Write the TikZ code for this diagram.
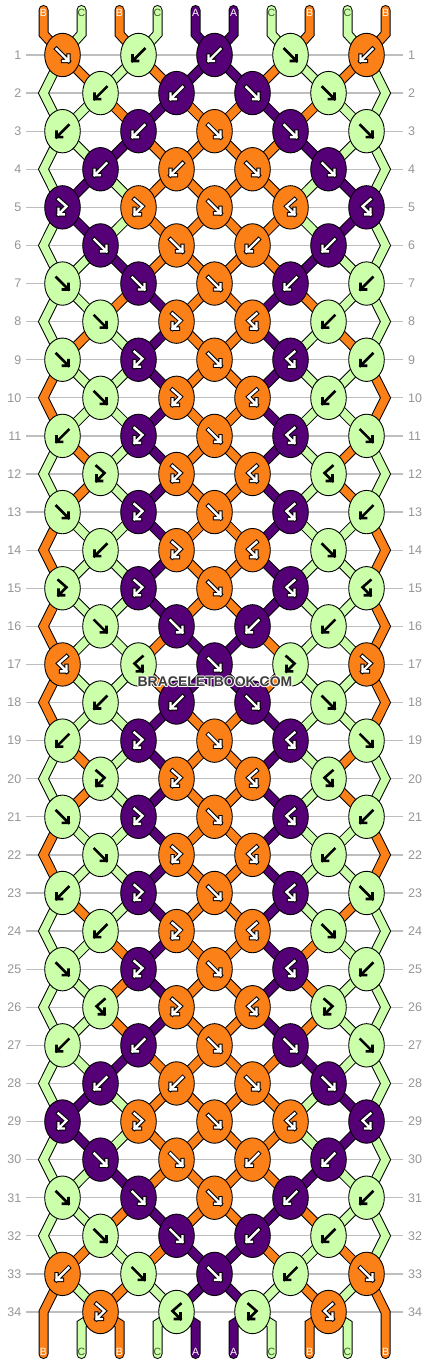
\documentclass[tikz,border=0pt]{standalone}
\usepackage{fontspec}
\setmainfont{Liberation Sans}
\usetikzlibrary{shapes.geometric}
\definecolor{cA}{RGB}{86,0,120}
\definecolor{cB}{RGB}{252,128,24}
\definecolor{cC}{RGB}{204,255,170}
\definecolor{rowgray}{RGB}{190,190,190}
\definecolor{numgray}{RGB}{150,150,150}
\definecolor{lblC}{RGB}{60,90,40}
\definecolor{wmgray}{RGB}{60,60,60}
\def\getcol#1{\csname sc#1\endcsname}
\def\setcol#1#2{\expandafter\xdef\csname sc#1\endcsname{#2}}
\def\arrpathF{(-6,-6) -- (6,6) (0.5,6) -- (6,6) -- (6,0.5)}
\def\arrpathB{(6,-6) -- (-6,6) (-0.5,6) -- (-6,6) -- (-6,0.5)}
\def\arrpathb{(-4,-8) -- (4,-1) -- (-4,7) (-4,1.5) -- (-4,7) -- (1.5,7)}
\def\arrpathf{(4,-8) -- (-4,-1) -- (4,7) (4,1.5) -- (4,7) -- (-1.5,7)}
\newcommand\thr[2]{%
  \ifnum\passno=1 \draw[thread out] #2;\else\draw[thread col, draw=c#1] #2;\fi}
\begin{document}
\begin{tikzpicture}[x=1pt,y=-1pt,
  knot/.style={ellipse, draw=black, line width=0.9pt, minimum width=35.6pt, minimum height=43.4pt, inner sep=0pt},
  thread out/.style={line width=10pt, draw=black, line cap=round, line join=miter},
  thread col/.style={line width=8pt, line cap=round, line join=miter},
  arr out/.style={draw=black, line width=4.4pt, line cap=rect, line join=miter},
  arr white/.style={draw=white, line width=2.4pt, line cap=rect, line join=miter},
  arr black/.style={draw=black, line width=2.6pt, line cap=rect, line join=miter},
  rowline/.style={draw=rowgray, line width=1.3pt},
  num/.style={text=numgray, font=\fontsize{12.5}{14}\selectfont, inner sep=0pt},
  lbl/.style={font=\fontsize{10.5}{12}\selectfont, inner sep=0pt},
  wm/.style={font=\bfseries\fontsize{14}{16}\selectfont, inner sep=0pt}]
\useasboundingbox (0,0) rectangle (430,1364);
\fill[white] (0,0) rectangle (430,1364);
% ---------- simulation of the strings (no drawing) ----------
\setcol{0}{B}\setcol{1}{C}\setcol{2}{B}\setcol{3}{C}\setcol{4}{A}
\setcol{5}{A}\setcol{6}{C}\setcol{7}{B}\setcol{8}{C}\setcol{9}{B}
\foreach \pp in {0,...,9} {\expandafter\xdef\csname sg-0-\pp\endcsname{\getcol{\pp}}}
\foreach \row [count=\ri] in {{F,B,B,F,B},{B,B,F,F},{B,B,F,F,F},{B,B,F,F},{b,b,F,f,f},
  {F,F,B,B},{F,F,F,B,B},{F,b,f,B},{F,b,F,f,B},{F,b,f,B},
  {B,b,F,f,F},{b,b,f,f},{F,b,F,f,B},{B,b,f,F},{b,b,F,f,f},
  {F,F,B,B},{f,f,F,b,b},{B,B,F,F},{B,b,F,f,F},{b,b,f,f},
  {F,b,F,f,B},{F,b,f,B},{B,b,F,f,F},{B,b,f,F},{F,b,F,f,B},
  {f,b,f,b},{B,B,F,F,F},{B,B,F,F},{b,b,F,f,f},{F,F,B,B},
  {F,F,F,B,B},{F,F,B,B},{B,F,F,B,F},{b,f,b,f}} {
  \ifodd\ri\relax\def\off{0}\else\def\off{1}\fi
  \foreach \kt [count=\kk from 0] in \row {
    \edef\li{\the\numexpr2*\kk+\off\relax}%
    \edef\rr{\the\numexpr\li+1\relax}%
    \edef\cL{\getcol{\li}}\edef\cR{\getcol{\rr}}%
    \if\kt F\let\shown\cL\setcol{\li}{\cR}\setcol{\rr}{\cL}\fi
    \if\kt B\let\shown\cR\setcol{\li}{\cR}\setcol{\rr}{\cL}\fi
    \if\kt f\let\shown\cL\fi
    \if\kt b\let\shown\cR\fi
    \expandafter\xdef\csname kc-\ri-\kk\endcsname{\shown}%
    \expandafter\xdef\csname kt-\ri-\kk\endcsname{\kt}%
  }
  \foreach \pp in {0,...,9} {\expandafter\xdef\csname sg-\ri-\pp\endcsname{\getcol{\pp}}}
}
% ---------- positions, row lines and numbers ----------
\foreach \ri in {1,...,34} {
  \pgfmathsetmacro\yy{55+38.09*(\ri-1)}
  \ifodd\ri\relax
    \foreach \pp in {0,...,9} {\coordinate (P-\ri-\pp) at ({62.5+76*int(\pp/2)},\yy);}
  \else
    \coordinate (P-\ri-0) at (43.5,\yy);
    \coordinate (P-\ri-9) at (385.5,\yy);
    \foreach \pp in {1,...,8} {\coordinate (P-\ri-\pp) at ({100.5+76*int((\pp-1)/2)},\yy);}
  \fi
  \draw[rowline] (26,\yy) -- (403,\yy);
  \node[num, anchor=east] (nl-\ri) at (21.5,\yy) {\ri};
  \node[num, anchor=west] (nr-\ri) at (408,\yy) {\ri};
}
\foreach \pp in {0,...,9} {
  \coordinate (T-\pp) at ({43.5+38*\pp},10);
  \coordinate (U-\pp) at ({43.5+38*\pp},34);
  \coordinate (V-\pp) at ({43.5+38*\pp},1324);
  \coordinate (W-\pp) at ({43.5+38*\pp},1354);
}
% ---------- threads: pass 1 outlines, pass 2 colours ----------
\foreach \passno in {1,2} {
  \foreach \pp in {0,...,9} {\edef\segc{\csname sg-0-\pp\endcsname}\thr{\segc}{(T-\pp) -- (U-\pp) -- (P-1-\pp)}}
  \foreach \ri in {1,...,34} {
    \edef\rn{\the\numexpr\ri+1\relax}%
    \edef\rnn{\the\numexpr\ri+2\relax}%
    \foreach \pp in {1,...,8} {
      \edef\segc{\csname sg-\ri-\pp\endcsname}%
      \ifnum\ri<34 \thr{\segc}{(P-\ri-\pp) -- (P-\rn-\pp)}%
      \else\thr{\segc}{(P-\ri-\pp) -- (V-\pp) -- (W-\pp)}\fi
    }
    \ifodd\ri\relax
      \foreach \pp in {0,9} {
        \edef\segc{\csname sg-\ri-\pp\endcsname}%
        \ifnum\ri<33 \thr{\segc}{(P-\ri-\pp) -- (P-\rn-\pp) -- (P-\rnn-\pp)}%
        \else\thr{\segc}{(P-\ri-\pp) -- (P-\rn-\pp) -- (V-\pp) -- (W-\pp)}\fi
      }
    \fi
  }
}
% ---------- knots ----------
\foreach \ri in {1,...,34} {
  \ifodd\ri\relax\def\nk{4}\def\off{0}\else\def\nk{3}\def\off{1}\fi
  \foreach \kk in {0,...,\nk} {
    \edef\li{\the\numexpr2*\kk+\off\relax}%
    \edef\shown{\csname kc-\ri-\kk\endcsname}%
    \edef\ktype{\csname kt-\ri-\kk\endcsname}%
    \node[knot, fill=c\shown] (K-\ri-\kk) at (P-\ri-\li) {};
    \expandafter\let\expandafter\ap\csname arrpath\ktype\endcsname
    \begin{scope}[shift={(K-\ri-\kk.center)}]
      \if\shown C\draw[arr black] \ap;\else\draw[arr out] \ap;\draw[arr white] \ap;\fi
    \end{scope}
  }
}
% ---------- string labels ----------
\foreach \lt [count=\pp from 0] in {B,C,B,C,A,A,C,B,C,B} {
  \if\lt C\def\lc{lblC}\else\def\lc{white}\fi
  \node[lbl, text=\lc] (top-\pp) at ({43.5+38*\pp},12.5) {\lt};
  \node[lbl, text=\lc] (bot-\pp) at ({43.5+38*\pp},1352) {\lt};
}
% ---------- watermark ----------
\foreach \dx/\dy in {1/0,-1/0,0/1,0/-1,0.8/0.8,-0.8/0.8,0.8/-0.8,-0.8/-0.8}
  \node[wm, text=white, opacity=0.8] at (215+\dx,682+\dy) {BRACELETBOOK.COM};
\node[wm, text=wmgray] (wm) at (215,682) {BRACELETBOOK.COM};
\end{tikzpicture}
\end{document}
